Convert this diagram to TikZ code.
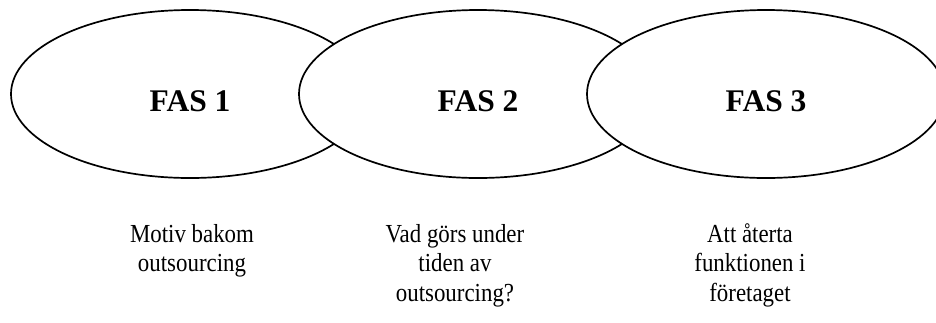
\documentclass[tikz,border=0pt]{standalone}
\usepackage{fontspec}
\setmainfont{Liberation Serif}
\newfontfamily\notefont{Liberation Serif}[FakeStretch=0.88]
\usetikzlibrary{shapes.geometric}
\tikzset{
  phase/.style={ellipse, draw=black, fill=white, line width=1.7pt,
    minimum width=358pt, minimum height=168pt, inner sep=0pt,
    font=\fontsize{31.5}{34}\selectfont\bfseries,
    text height=35pt, text depth=0pt},
  % anchor=base sits on the baseline of the last line
  note/.style={align=center, inner sep=0pt, anchor=base,
    font=\notefont\fontsize{26}{29.5}\selectfont}
}
\begin{document}
\begin{tikzpicture}[x=1pt, y=-1pt]
  \useasboundingbox (0,0) rectangle (936,322);
  \clip (0,0) rectangle (936,322);
  % three overlapping phases, each drawn over the previous one
  \node[phase] (fas1) at (190,94) {FAS 1};
  \node[phase] (fas2) at (478,94) {FAS 2};
  \node[phase] (fas3) at (766,94) {FAS 3};
  % descriptions below each phase
  \node[note] (d1) at (192,271.5) {Motiv bakom\\outsourcing};
  \node[note] (d2) at (455,301) {Vad görs under\\tiden av\\outsourcing?};
  \node[note] (d3) at (750,301) {Att återta\\funktionen i\\företaget};
\end{tikzpicture}
\end{document}
